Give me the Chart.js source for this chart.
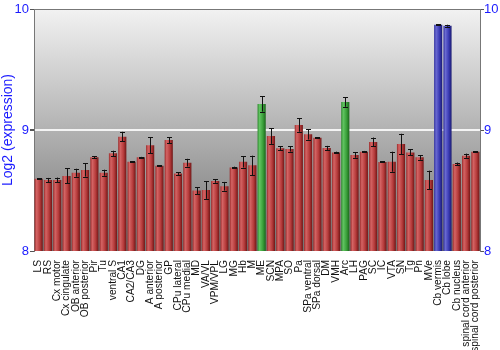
<!DOCTYPE html>
<html>
<head>
<meta charset="utf-8">
<script src="https://cdn.jsdelivr.net/npm/chart.js@4"></script>
<style>
html,body{margin:0;padding:0;background:#fff;}
#wrap{width:500px;height:350px;}
</style>
</head>
<body>
<div id="wrap"><canvas id="c" width="500" height="350"></canvas></div>
<script>
const labels = ["LS","RS","Cx motor","Cx cingulate","OB anterior","OB posterior","Pir","Tu","ventral S","CA1","CA2/CA3","DG","A anterior","A posterior","GP","CPu lateral","CPu medial","MD","VA/VL","VPM/VPL","LG","MG","Hb","M","ME","SCN","MPA","SO","Pa","SPa ventral","SPa dorsal","DM","VMH","Arc","LH","PAG","SC","IC","VTA","SN","Tg","Pn","MVe","Cb vermis","Cb lobe","Cb nucleus","spinal cord anterior","spinal cord posterior"];
const values = [8.597,8.587,8.587,8.62,8.647,8.67,8.774,8.647,8.807,8.945,8.738,8.774,8.873,8.705,8.917,8.64,8.73,8.499,8.504,8.578,8.535,8.691,8.737,8.708,9.215,8.95,8.849,8.843,9.041,8.964,8.936,8.852,8.815,9.231,8.793,8.821,8.901,8.736,8.738,8.884,8.815,8.774,8.587,9.870,9.862,8.719,8.788,8.821];
const errors = [0.005,0.017,0.02,0.062,0.033,0.055,0.008,0.025,0.022,0.04,0.005,0.004,0.066,0.005,0.025,0.011,0.032,0.028,0.073,0.014,0.036,0.006,0.047,0.08,0.063,0.065,0.017,0.021,0.055,0.043,0.004,0.017,0.006,0.039,0.022,0.006,0.037,0.004,0.083,0.085,0.025,0.019,0.077,0.006,0.008,0.012,0.017,0.005];
const greenLabels = ["ME","Arc"];
const blueLabels = ["Cb vermis","Cb lobe"];
const yTicks = [8,9,10];

const palettes = {
  red:   ['#9a2a2a','#d46464','#b63b3b','#701616'],
  green: ['#2f8a2f','#62c462','#3aa03a','#1b661b'],
  blue:  ['#2f2f9c','#6a6ad2','#3a3ab4','#1c1c70']
};

function paletteFor(i){
  const lab = labels[i];
  return greenLabels.includes(lab) ? palettes.green : blueLabels.includes(lab) ? palettes.blue : palettes.red;
}

function makeGrad(c, pal, x0, x1){
  const g = c.createLinearGradient(x0, 0, x1, 0);
  g.addColorStop(0, pal[0]);
  g.addColorStop(0.25, pal[1]);
  g.addColorStop(0.65, pal[2]);
  g.addColorStop(1, pal[3]);
  return g;
}

function barFill(ctx){
  const i = ctx.dataIndex;
  if (i === undefined) return '#b33';
  return paletteFor(i)[2];
}

const gradPlugin = {
  id: 'grad',
  beforeDatasetsDraw(chart){
    const meta = chart.getDatasetMeta(0);
    meta.data.forEach((el, i) => {
      const w = el.width;
      if (!isFinite(el.x) || !isFinite(w)) return;
      el.options.backgroundColor = makeGrad(chart.ctx, paletteFor(i), el.x - w/2, el.x + w/2);
    });
  }
};

const bgPlugin = {
  id: 'bg',
  beforeDraw(chart){
    const a = chart.chartArea;
    const c = chart.ctx;
    const g = c.createLinearGradient(0, a.top, 0, a.bottom);
    g.addColorStop(0, '#f2f2f2');
    g.addColorStop(1, '#727272');
    c.save();
    c.fillStyle = g;
    c.fillRect(a.left, a.top, a.right - a.left, a.bottom - a.top);
    c.restore();
  }
};

const errPlugin = {
  id: 'err',
  afterDatasetsDraw(chart){
    const meta = chart.getDatasetMeta(0);
    const ys = chart.scales.y;
    const c = chart.ctx;
    c.save();
    c.strokeStyle = '#111';
    c.lineWidth = 1;
    meta.data.forEach((el, i) => {
      const x = Math.round(el.x) + 0.5;
      const t = ys.getPixelForValue(values[i] + errors[i]);
      const b = ys.getPixelForValue(values[i] - errors[i]);
      c.beginPath();
      c.moveTo(x, t); c.lineTo(x, b);
      c.moveTo(x - 2.5, Math.round(t) + 0.5); c.lineTo(x + 2.5, Math.round(t) + 0.5);
      c.moveTo(x - 2.5, Math.round(b) + 0.5); c.lineTo(x + 2.5, Math.round(b) + 0.5);
      c.stroke();
    });
    c.restore();
  }
};

new Chart(document.getElementById('c'), {
  type: 'bar',
  data: {
    labels: labels,
    datasets: [{
      data: values,
      backgroundColor: barFill,
      borderWidth: 0,
      barPercentage: 0.88,
      categoryPercentage: 1.0
    }]
  },
  options: {
    responsive: false,
    animation: false,
    devicePixelRatio: 1,
    layout: { padding: { top: 9, left: 0, right: 0, bottom: 0 } },
    plugins: { legend: { display: false }, tooltip: { enabled: false } },
    scales: {
      x: {
        grid: { display: false },
        border: { display: false },
        ticks: {
          autoSkip: false,
          maxRotation: 90,
          minRotation: 90,
          color: '#111',
          padding: 1,
          font: { family: 'Liberation Sans', size: 10.2 }
        },
        afterFit(s){ s.height = 99; }
      },
      y: {
        min: 8, max: 10,
        afterBuildTicks(s){ s.ticks = yTicks.map(v => ({value: v})); },
        grid: {
          color: (ctx) => ctx.tick && ctx.tick.value === 9 ? '#f4f4f4' : (ctx.tick && ctx.tick.value === 10 ? '#777' : 'rgba(0,0,0,0)'),
          lineWidth: (ctx) => ctx.tick && ctx.tick.value === 9 ? 2 : 1,
          tickColor: '#555',
          tickLength: 4,
          drawTicks: true
        },
        border: { display: true, color: '#777' },
        ticks: {
          color: '#1a1aff',
          padding: 1,
          font: { family: 'Liberation Sans', size: 13 }
        },
        title: {
          display: true,
          text: 'Log2 (expression)',
          color: '#1a1aff',
          padding: { top: 0, bottom: 0 },
          font: { family: 'Liberation Sans', size: 14 }
        },
        afterFit(s){ s.width = 34; }
      },
      y2: {
        position: 'right',
        min: 8, max: 10,
        afterBuildTicks(s){ s.ticks = yTicks.map(v => ({value: v})); },
        grid: { drawOnChartArea: false, tickColor: '#555', tickLength: 4 },
        border: { display: true, color: '#777' },
        ticks: {
          color: '#1a1aff',
          padding: 0,
          font: { family: 'Liberation Sans', size: 13 }
        },
        afterFit(s){ s.width = 20; }
      }
    }
  },
  plugins: [bgPlugin, gradPlugin, errPlugin]
});
</script>
</body>
</html>
